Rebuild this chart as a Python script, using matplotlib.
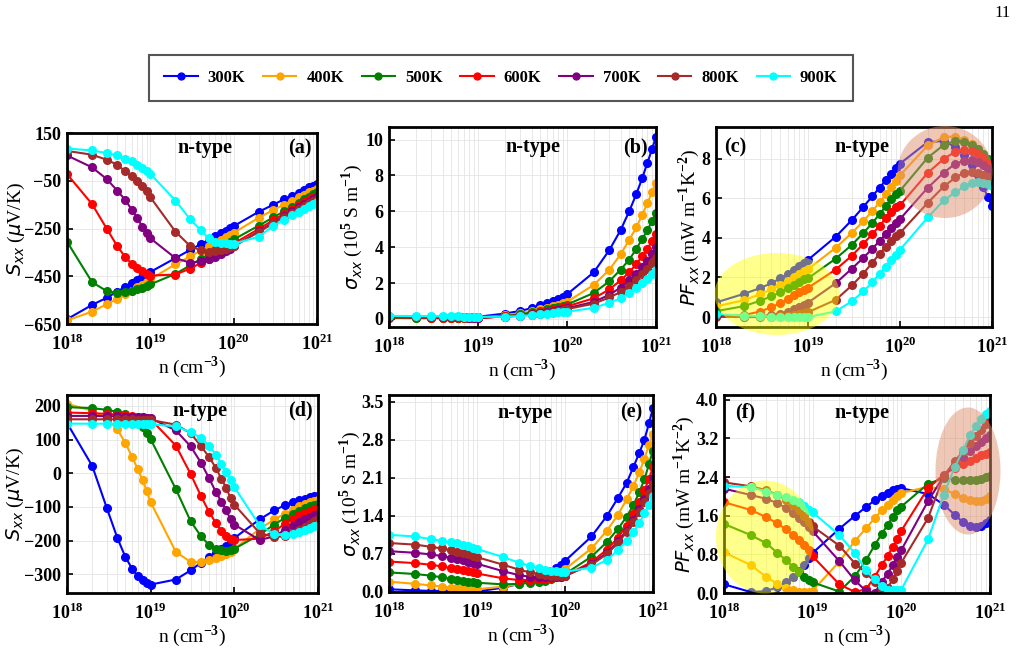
# Thermoelectric transport vs carrier concentration, n-type, 300-900 K
import numpy as np
import matplotlib
matplotlib.use('Agg')
import matplotlib.pyplot as plt
from matplotlib.patches import Ellipse

plt.rcParams['font.family'] = 'Liberation Serif'
plt.rcParams['font.weight'] = 'bold'
plt.rcParams['mathtext.fontset'] = 'custom'
plt.rcParams['mathtext.rm'] = 'Liberation Serif:weight=bold'
plt.rcParams['mathtext.bf'] = 'Liberation Serif:weight=bold'
plt.rcParams['mathtext.it'] = 'DejaVu Sans:style=italic:weight=normal'

# carrier concentration (cm^-3)
n_cm3 = [1e18, 2e18, 3e18, 4e18, 5e18, 6e18, 7e18, 8e18, 9e18,
         1e19, 2e19, 3e19, 4e19, 5e19, 6e19, 7e19, 8e19, 9e19,
         1e20, 2e20, 3e20, 4e20, 5e20, 6e20, 7e20, 8e20, 9e20, 1e21]

temps = ['300K', '400K', '500K', '600K', '700K', '800K', '900K']
colors = ['blue', 'orange', 'green', 'red', 'purple', 'brown', 'cyan']

# (a) Seebeck, uV/K
S_a = [
    [-630, -570, -540, -514, -495, -480, -467, -455, -444, -432, -374, -340, -316, -298, -283, -270, -259, -249, -240, -180, -150, -128, -113, -100, -88, -78, -70, -62],
    [-635, -598, -567, -545, -526, -510, -497, -485, -473, -462, -400, -367, -343, -325, -310, -297, -286, -277, -268, -205, -172, -150, -133, -120, -109, -99, -91, -84],
    [-305, -475, -512, -520, -518, -512, -505, -498, -491, -484, -440, -405, -378, -358, -342, -328, -316, -305, -296, -238, -203, -178, -158, -142, -128, -117, -107, -99],
    [-22, -148, -251, -323, -370, -398, -416, -430, -440, -447, -443, -418, -395, -376, -360, -346, -334, -323, -313, -252, -215, -189, -169, -153, -140, -129, -120, -112],
    [56, 6, -43, -91, -130, -172, -207, -242, -270, -291, -374, -393, -388, -379, -368, -357, -346, -335, -325, -262, -225, -198, -178, -162, -148, -137, -128, -120],
    [75, 59, 38, 17, -11, -32, -53, -74, -95, -119, -263, -323, -342, -347, -345, -340, -334, -328, -322, -265, -228, -202, -183, -167, -154, -143, -134, -127],
    [85, 77, 66, 56, 42, 31, 17, 3, -11, -21, -133, -211, -256, -291, -305, -309, -312, -313, -314, -284, -239, -214, -195, -180, -167, -156, -147, -140],
]

# (b) conductivity, 10^5 S/m
sig_b = [
    [0.10, 0.10, 0.10, 0.10, 0.10, 0.10, 0.10, 0.11, 0.11, 0.12, 0.30, 0.45, 0.60, 0.75, 0.88, 1.00, 1.13, 1.25, 1.37, 2.60, 3.85, 4.95, 6.00, 6.95, 7.85, 8.70, 9.45, 10.15],
    [0.05, 0.04, 0.04, 0.04, 0.04, 0.04, 0.04, 0.05, 0.05, 0.05, 0.20, 0.32, 0.43, 0.53, 0.62, 0.71, 0.80, 0.88, 0.95, 1.90, 2.75, 3.60, 4.40, 5.10, 5.80, 6.45, 7.05, 7.60],
    [0.06, 0.05, 0.05, 0.04, 0.04, 0.04, 0.04, 0.04, 0.04, 0.04, 0.16, 0.26, 0.36, 0.45, 0.53, 0.60, 0.67, 0.74, 0.80, 1.45, 2.10, 2.75, 3.30, 3.90, 4.45, 4.95, 5.45, 5.90],
    [0.08, 0.08, 0.07, 0.07, 0.06, 0.06, 0.06, 0.06, 0.05, 0.05, 0.14, 0.22, 0.30, 0.38, 0.45, 0.52, 0.58, 0.64, 0.70, 1.15, 1.65, 2.15, 2.60, 3.05, 3.50, 3.90, 4.35, 4.75],
    [0.11, 0.10, 0.10, 0.09, 0.09, 0.08, 0.08, 0.07, 0.07, 0.07, 0.13, 0.19, 0.26, 0.33, 0.39, 0.45, 0.50, 0.55, 0.60, 0.95, 1.35, 1.75, 2.15, 2.50, 2.90, 3.25, 3.60, 4.00],
    [0.14, 0.13, 0.12, 0.12, 0.11, 0.11, 0.10, 0.10, 0.09, 0.09, 0.12, 0.18, 0.24, 0.30, 0.35, 0.40, 0.45, 0.50, 0.55, 0.85, 1.20, 1.50, 1.85, 2.15, 2.50, 2.80, 3.10, 3.40],
    [0.17, 0.16, 0.15, 0.15, 0.14, 0.14, 0.13, 0.13, 0.13, 0.12, 0.12, 0.16, 0.21, 0.26, 0.30, 0.33, 0.36, 0.38, 0.40, 0.62, 0.90, 1.15, 1.45, 1.70, 2.00, 2.25, 2.50, 2.75],
]

# (c) power factor, mW m^-1 K^-2
PF_c = [
    [0.74, 1.17, 1.46, 1.71, 1.96, 2.18, 2.38, 2.58, 2.75, 2.89, 4.06, 4.90, 5.57, 6.10, 6.54, 6.91, 7.25, 7.53, 7.75, 8.84, 8.89, 8.59, 8.17, 7.66, 7.16, 6.58, 6.07, 5.60],
    [0.54, 0.85, 1.15, 1.40, 1.62, 1.82, 2.00, 2.17, 2.32, 2.42, 3.50, 4.25, 4.85, 5.35, 5.80, 6.20, 6.55, 6.85, 7.16, 8.67, 9.09, 9.12, 8.95, 8.75, 8.50, 8.25, 8.00, 7.70],
    [0.30, 0.55, 0.82, 1.05, 1.25, 1.45, 1.62, 1.78, 1.90, 1.96, 2.95, 3.65, 4.25, 4.75, 5.20, 5.60, 5.95, 6.20, 6.38, 8.05, 8.70, 8.90, 8.85, 8.70, 8.50, 8.25, 8.00, 7.75],
    [0.05, 0.10, 0.28, 0.50, 0.70, 0.90, 1.10, 1.25, 1.38, 1.48, 2.40, 3.10, 3.70, 4.20, 4.60, 5.00, 5.30, 5.55, 5.65, 7.28, 8.00, 8.35, 8.45, 8.40, 8.25, 8.05, 7.80, 7.60],
    [0.05, 0.03, 0.05, 0.10, 0.18, 0.28, 0.40, 0.52, 0.63, 0.73, 1.71, 2.45, 3.00, 3.45, 3.85, 4.20, 4.50, 4.75, 4.95, 6.53, 7.30, 7.75, 7.90, 7.95, 7.85, 7.70, 7.50, 7.30],
    [0.02, 0.00, 0.00, 0.02, 0.04, 0.07, 0.10, 0.15, 0.20, 0.25, 0.87, 1.60, 2.20, 2.75, 3.20, 3.55, 3.85, 4.10, 4.25, 5.77, 6.60, 7.05, 7.30, 7.35, 7.30, 7.20, 7.05, 6.90],
    [0.15, 0.08, 0.05, 0.03, 0.02, 0.01, 0.00, 0.00, 0.00, 0.00, 0.29, 0.80, 1.30, 1.75, 2.20, 2.55, 2.90, 3.15, 3.40, 5.03, 5.90, 6.30, 6.60, 6.75, 6.80, 6.75, 6.70, 6.60],
]

# (d) Seebeck, uV/K
S_d = [
    [149, 22, -104, -192, -249, -283, -305, -317, -325, -330, -315, -288, -265, -248, -235, -225, -215, -205, -192, -137, -110, -95, -86, -80, -75, -71, -68, -66],
    [206, 185, 162, 130, 89, 48, 13, -21, -53, -86, -233, -263, -263, -256, -250, -244, -238, -232, -225, -165, -137, -120, -108, -98, -91, -86, -82, -78],
    [196, 193, 188, 182, 176, 168, 152, 138, 120, 101, -47, -142, -187, -213, -224, -229, -230, -229, -224, -182, -152, -133, -120, -111, -104, -98, -94, -90],
    [180, 178, 176, 174, 172, 170, 168, 166, 164, 160, 82, -2, -68, -115, -147, -172, -187, -194, -198, -194, -172, -150, -135, -125, -117, -111, -106, -102],
    [170, 170, 169, 169, 168, 168, 167, 166, 165, 163, 127, 80, 31, -15, -55, -84, -110, -137, -152, -198, -187, -168, -155, -145, -137, -130, -125, -120],
    [160, 160, 160, 160, 160, 160, 159, 159, 158, 158, 144, 119, 80, 48, 16, -16, -44, -73, -93, -177, -189, -187, -178, -168, -158, -150, -143, -137],
    [147, 147, 147, 147, 146, 146, 146, 146, 145, 145, 139, 122, 104, 82, 55, 28, 3, -19, -41, -154, -180, -182, -180, -175, -168, -162, -157, -152],
]

# (e) conductivity, 10^5 S/m
sig_e = [
    [0.05, 0.03, 0.02, 0.02, 0.01, 0.01, 0.01, 0.01, 0.01, 0.01, 0.08, 0.15, 0.21, 0.27, 0.33, 0.39, 0.45, 0.50, 0.57, 1.02, 1.40, 1.73, 2.00, 2.30, 2.56, 2.80, 3.10, 3.38],
    [0.19, 0.15, 0.12, 0.10, 0.08, 0.07, 0.06, 0.05, 0.05, 0.05, 0.10, 0.14, 0.18, 0.21, 0.25, 0.29, 0.33, 0.37, 0.42, 0.80, 1.13, 1.42, 1.70, 1.95, 2.20, 2.45, 2.70, 2.90],
    [0.36, 0.33, 0.30, 0.27, 0.24, 0.22, 0.20, 0.19, 0.18, 0.17, 0.14, 0.15, 0.17, 0.19, 0.21, 0.24, 0.27, 0.30, 0.33, 0.65, 0.92, 1.16, 1.38, 1.60, 1.84, 2.07, 2.35, 2.60],
    [0.56, 0.53, 0.50, 0.47, 0.44, 0.42, 0.40, 0.38, 0.36, 0.34, 0.25, 0.22, 0.22, 0.23, 0.24, 0.25, 0.27, 0.28, 0.30, 0.55, 0.78, 1.00, 1.22, 1.43, 1.65, 1.87, 2.08, 2.29],
    [0.75, 0.72, 0.69, 0.66, 0.63, 0.61, 0.58, 0.56, 0.54, 0.52, 0.38, 0.31, 0.28, 0.27, 0.27, 0.27, 0.28, 0.28, 0.29, 0.52, 0.72, 0.93, 1.13, 1.33, 1.52, 1.70, 1.90, 2.10],
    [0.90, 0.87, 0.83, 0.80, 0.77, 0.74, 0.71, 0.69, 0.66, 0.64, 0.50, 0.41, 0.36, 0.33, 0.31, 0.30, 0.30, 0.30, 0.30, 0.50, 0.70, 0.90, 1.10, 1.28, 1.47, 1.65, 1.82, 1.98],
    [1.05, 1.02, 0.97, 0.94, 0.91, 0.90, 0.87, 0.84, 0.81, 0.79, 0.64, 0.54, 0.48, 0.44, 0.40, 0.39, 0.38, 0.37, 0.37, 0.45, 0.59, 0.77, 0.94, 1.10, 1.27, 1.45, 1.60, 1.76],
]

# (f) power factor, mW m^-1 K^-2
PF_f = [
    [0.18, 0.02, 0.04, 0.12, 0.23, 0.33, 0.46, 0.59, 0.72, 0.83, 1.33, 1.60, 1.78, 1.92, 2.00, 2.07, 2.13, 2.16, 2.17, 2.05, 1.83, 1.62, 1.46, 1.38, 1.36, 1.38, 1.44, 1.51],
    [0.84, 0.58, 0.33, 0.19, 0.11, 0.06, 0.03, 0.02, 0.02, 0.05, 0.65, 1.08, 1.34, 1.55, 1.71, 1.83, 1.93, 2.00, 2.07, 2.20, 2.15, 2.05, 1.97, 1.92, 1.90, 1.91, 1.95, 2.00],
    [1.43, 1.20, 1.03, 0.83, 0.68, 0.54, 0.44, 0.33, 0.26, 0.22, 0.03, 0.35, 0.68, 0.99, 1.22, 1.41, 1.58, 1.71, 1.79, 2.26, 2.38, 2.35, 2.33, 2.33, 2.34, 2.37, 2.40, 2.43],
    [1.88, 1.72, 1.57, 1.44, 1.32, 1.20, 1.10, 0.99, 0.89, 0.76, 0.18, 0.02, 0.08, 0.33, 0.58, 0.76, 0.96, 1.11, 1.29, 2.17, 2.45, 2.59, 2.67, 2.74, 2.80, 2.85, 2.88, 2.92],
    [2.16, 2.03, 1.95, 1.86, 1.76, 1.66, 1.56, 1.46, 1.36, 1.28, 0.66, 0.26, 0.04, 0.00, 0.23, 0.40, 0.58, 0.75, 0.89, 1.90, 2.42, 2.66, 2.82, 2.95, 3.05, 3.13, 3.20, 3.27],
    [2.29, 2.21, 2.13, 2.03, 1.93, 1.83, 1.72, 1.60, 1.48, 1.38, 0.98, 0.61, 0.42, 0.23, 0.07, 0.11, 0.28, 0.46, 0.63, 1.55, 2.42, 2.73, 2.94, 3.10, 3.25, 3.38, 3.50, 3.62],
    [2.22, 2.19, 2.10, 2.03, 1.99, 1.93, 1.88, 1.81, 1.72, 1.67, 1.20, 0.82, 0.47, 0.28, 0.14, 0.07, 0.06, 0.07, 0.07, 1.11, 2.03, 2.61, 2.97, 3.28, 3.46, 3.60, 3.71, 3.77],
]

W, H = 1020, 651
fig = plt.figure(figsize=(W / 100, H / 100), dpi=100)


def px_axes(x0, y0, x1, y1):
    return fig.add_axes([x0 / W, 1 - y1 / H, (x1 - x0) / W, (y1 - y0) / H])


def panel(ax, data, ylim, yticks, ylabel, label_x, fmt=None):
    for vals, c, t in zip(data, colors, temps):
        ax.plot(n_cm3, vals, '-o', color=c, ms=5.5, lw=1.5, label=t)
    ax.set_xscale('log')
    ax.set_xlim(1e18, 1e21)
    ax.set_ylim(*ylim)
    ax.set_xticks([1e18, 1e19, 1e20, 1e21])
    ax.set_xticklabels([r'$10^{18}$', r'$10^{19}$', r'$10^{20}$', r'$10^{21}$'])
    ax.set_yticks(yticks)
    if fmt:
        ax.set_yticklabels([fmt % v for v in yticks])
    ax.tick_params(which='major', direction='in', length=4, width=1.2,
                   labelsize=13, pad=4)
    ax.tick_params(axis='x', which='major', pad=7)
    ax.tick_params(which='minor', length=0)
    ax.grid(which='both', axis='x', color='#e4e4e4', lw=0.6)
    ax.grid(which='major', axis='y', color='#e4e4e4', lw=0.6)
    ax.set_axisbelow(True)
    for s in ax.spines.values():
        s.set_linewidth(2)
    ax.set_xlabel(r'n (cm$^{-3}$)', fontsize=14, labelpad=0)
    ax.set_ylabel(ylabel, fontsize=14)
    ax.yaxis.set_label_coords(label_x, 0.5)


def blob(ax, cx, cy, w, h, color, alpha):
    e = Ellipse((cx / W, 1 - cy / H), w / W, h / H, transform=fig.transFigure,
                facecolor=color, edgecolor='none', alpha=alpha, clip_on=False, zorder=5)
    ax.add_artist(e)


ax_a = px_axes(67, 133, 317, 324)
panel(ax_a, S_a, (-650, 150), [-650, -450, -250, -50, 150], r'$S_{xx}$ ($\mu$V/K)', -0.16)
ax_a.text(0.55, 0.92, 'n-type', transform=ax_a.transAxes, ha='center', va='center', fontsize=14.5)
ax_a.text(0.98, 0.92, '(a)', transform=ax_a.transAxes, ha='right', va='center', fontsize=14.5)

ax_b = px_axes(389, 127, 656, 327)
panel(ax_b, sig_b, (-0.45, 10.7), [0, 2, 4, 6, 8, 10], r'$\sigma_{xx}$ (10$^5$ S m$^{-1}$)', -0.09)
ax_b.text(0.54, 0.9, 'n-type', transform=ax_b.transAxes, ha='center', va='center', fontsize=14.5)
ax_b.text(0.97, 0.9, '(b)', transform=ax_b.transAxes, ha='right', va='center', fontsize=14.5)

ax_c = px_axes(716, 127, 992, 327)
panel(ax_c, PF_c, (-0.5, 9.6), [0, 2, 4, 6, 8], r'$PF_{xx}$ (mW m$^{-1}$K$^{-2}$)', -0.05)
ax_c.text(0.53, 0.9, 'n-type', transform=ax_c.transAxes, ha='center', va='center', fontsize=14.5)
ax_c.text(0.03, 0.9, '(c)', transform=ax_c.transAxes, ha='left', va='center', fontsize=14.5)
blob(ax_c, 777, 294, 125, 82, 'yellow', 0.45)
blob(ax_c, 945, 172, 95, 92, '#E0906F', 0.5)

ax_d = px_axes(67, 395, 318, 593)
panel(ax_d, S_d, (-355, 232), [-300, -200, -100, 0, 100, 200], r'$S_{xx}$ ($\mu$V/K)', -0.165)
ax_d.text(0.53, 0.92, 'n-type', transform=ax_d.transAxes, ha='center', va='center', fontsize=14.5)
ax_d.text(0.98, 0.92, '(d)', transform=ax_d.transAxes, ha='right', va='center', fontsize=14.5)

ax_e = px_axes(389, 395, 653, 592)
panel(ax_e, sig_e, (0, 3.62), [0.0, 0.7, 1.4, 2.1, 2.8, 3.5], r'$\sigma_{xx}$ (10$^5$ S m$^{-1}$)', -0.1, '%.1f')
ax_e.text(0.515, 0.91, 'n-type', transform=ax_e.transAxes, ha='center', va='center', fontsize=14.5)
ax_e.text(0.96, 0.91, '(e)', transform=ax_e.transAxes, ha='right', va='center', fontsize=14.5)

ax_f = px_axes(724, 395, 990, 593)
panel(ax_f, PF_f, (0, 4.1), [0.0, 0.8, 1.6, 2.4, 3.2, 4.0], r'$PF_{xx}$ (mW m$^{-1}$K$^{-2}$)', -0.1, '%.1f')
ax_f.text(0.52, 0.91, 'n-type', transform=ax_f.transAxes, ha='center', va='center', fontsize=14.5)
ax_f.text(0.04, 0.91, '(f)', transform=ax_f.transAxes, ha='left', va='center', fontsize=14.5)
blob(ax_f, 765, 537, 98, 113, 'yellow', 0.45)
blob(ax_f, 968, 471, 65, 127, '#E0906F', 0.5)

handles, labels = ax_a.get_legend_handles_labels()
leg = fig.legend(handles, labels, loc='center', ncol=7, mode='expand',
                 bbox_to_anchor=(141 / W, 1 - 101 / H, 720 / W, 46 / H),
                 fancybox=False, edgecolor='#555555', framealpha=1,
                 fontsize=12, handlelength=2.0, handletextpad=0.6,
                 borderpad=0.9, markerscale=0.9)
leg.get_frame().set_linewidth(1.5)

fig.text(1003 / W, 1 - 13 / H, '11', ha='center', va='center', fontsize=12, fontweight='normal')

fig.savefig('out.png', dpi=100)
